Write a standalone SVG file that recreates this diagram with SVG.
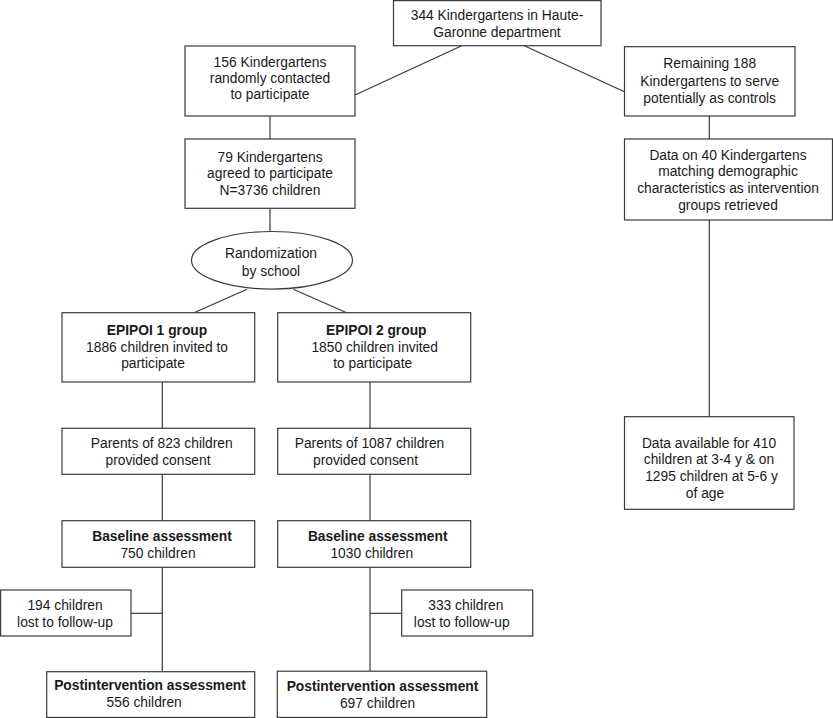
<svg xmlns="http://www.w3.org/2000/svg" width="833" height="718" viewBox="0 0 833 718">
<style>
  rect, ellipse { fill: #ffffff; stroke: #3a3a3a; stroke-width: 1.2; }
  .c line { stroke: #3a3a3a; stroke-width: 1.2; }
  text { font-family: "Liberation Sans", Arial, sans-serif; font-size: 13.8px; fill: #1a1a1a; text-anchor: middle; }
  .b { font-weight: bold; }
</style>
<rect x="0" y="0" width="833" height="718" style="fill:#ffffff;stroke:none"/>
<g class="c" id="connectors">
  <line x1="461.7" y1="45.7" x2="355" y2="95"/>
  <line x1="524.3" y1="45.7" x2="625" y2="92"/>
  <line x1="270" y1="116" x2="270" y2="139"/>
  <line x1="709.3" y1="116" x2="709.3" y2="139"/>
  <line x1="270" y1="208.3" x2="270" y2="231.5"/>
  <line x1="709.3" y1="220" x2="709.3" y2="416.7"/>
  <line x1="247" y1="289.3" x2="194" y2="312.7"/>
  <line x1="293.3" y1="289.3" x2="346.7" y2="312.7"/>
  <line x1="162.3" y1="382" x2="162.3" y2="428.3"/>
  <line x1="370" y1="382" x2="370" y2="428.3"/>
  <line x1="162.3" y1="474.3" x2="162.3" y2="520.7"/>
  <line x1="370" y1="474.3" x2="370" y2="520.7"/>
  <line x1="162.3" y1="567.3" x2="162.3" y2="671.7"/>
  <line x1="370" y1="567.3" x2="370" y2="671"/>
  <line x1="131" y1="613.3" x2="162.3" y2="613.3"/>
  <line x1="370" y1="613.3" x2="401.7" y2="613.3"/>
</g>
<g id="n-top">
  <rect x="393.5" y="0.6" width="207.5" height="45.1"/>
  <text x="497" y="20">344 Kindergartens in Haute-</text>
  <text x="497" y="37.3">Garonne department</text>
</g>
<g id="n-contacted">
  <rect x="185" y="46" width="170" height="70"/>
  <text x="270" y="67.3">156 Kindergartens</text>
  <text x="270" y="83.3">randomly contacted</text>
  <text x="270" y="99.3">to participate</text>
</g>
<g id="n-remaining">
  <rect x="624.5" y="46.7" width="170.5" height="69.3"/>
  <text x="709.7" y="68.3">Remaining 188</text>
  <text x="709.7" y="85.5">Kindergartens to serve</text>
  <text x="709.7" y="102.7">potentially as controls</text>
</g>
<g id="n-agreed">
  <rect x="185" y="139" width="170" height="69.3"/>
  <text x="270" y="161.7">79 Kindergartens</text>
  <text x="270" y="178.3">agreed to participate</text>
  <text x="270" y="195">N=3736 children</text>
</g>
<g id="n-data40">
  <rect x="624.5" y="139" width="208" height="81"/>
  <text x="728" y="159.5">Data on 40 Kindergartens</text>
  <text x="728" y="176.2">matching demographic</text>
  <text x="728" y="192.9">characteristics as intervention</text>
  <text x="728" y="209.6">groups retrieved</text>
</g>
<g id="n-random">
  <ellipse cx="272" cy="260.3" rx="80.5" ry="28.8"/>
  <text x="271" y="258">Randomization</text>
  <text x="271" y="275.7">by school</text>
</g>
<g id="n-epipoi1">
  <rect x="62" y="312.7" width="192.7" height="69.3"/>
  <text class="b" x="157" y="335">EPIPOI 1 group</text>
  <text x="157" y="351.7">1886 children invited to</text>
  <text x="153" y="368.3">participate</text>
</g>
<g id="n-epipoi2">
  <rect x="277.7" y="312.7" width="193" height="69.3"/>
  <text class="b" x="376.3" y="335">EPIPOI 2 group</text>
  <text x="374.7" y="351.7">1850 children invited</text>
  <text x="372.7" y="368.3">to participate</text>
</g>
<g id="n-consent1">
  <rect x="62" y="428.3" width="192.7" height="46"/>
  <text x="161.7" y="448.3">Parents of 823 children</text>
  <text x="158" y="465">provided consent</text>
</g>
<g id="n-consent2">
  <rect x="277.7" y="428.3" width="193" height="46"/>
  <text x="369.5" y="448.3">Parents of 1087 children</text>
  <text x="365.5" y="465">provided consent</text>
</g>
<g id="n-data-available">
  <rect x="624.5" y="416.7" width="169.5" height="92.6"/>
  <text x="709" y="447.5">Data available for 410</text>
  <text x="709" y="464.2">children at 3-4 y &amp; on</text>
  <text x="711.5" y="480.9">1295 children at 5-6 y</text>
  <text x="705" y="497.6">of age</text>
</g>
<g id="n-baseline1">
  <rect x="62" y="520.7" width="192.7" height="46.6"/>
  <text class="b" x="162" y="541">Baseline assessment</text>
  <text x="158" y="557.7">750 children</text>
</g>
<g id="n-baseline2">
  <rect x="277.7" y="520.7" width="193" height="46.6"/>
  <text class="b" x="377.7" y="541">Baseline assessment</text>
  <text x="371.8" y="557.7">1030 children</text>
</g>
<g id="n-lost1">
  <rect x="0.6" y="590" width="130.4" height="46"/>
  <text x="65" y="610.3">194 children</text>
  <text x="65" y="627">lost to follow-up</text>
</g>
<g id="n-lost2">
  <rect x="401.7" y="590" width="131" height="46"/>
  <text x="465.8" y="610.3">333 children</text>
  <text x="461.8" y="627">lost to follow-up</text>
</g>
<g id="n-post1">
  <rect x="46.7" y="671.7" width="208" height="45.7"/>
  <text class="b" x="150" y="690.3">Postintervention assessment</text>
  <text x="144.2" y="707.3">556 children</text>
</g>
<g id="n-post2">
  <rect x="277.3" y="671.2" width="209.4" height="46.2"/>
  <text class="b" x="382.5" y="690.8">Postintervention assessment</text>
  <text x="377.5" y="707.5">697 children</text>
</g>
</svg>
